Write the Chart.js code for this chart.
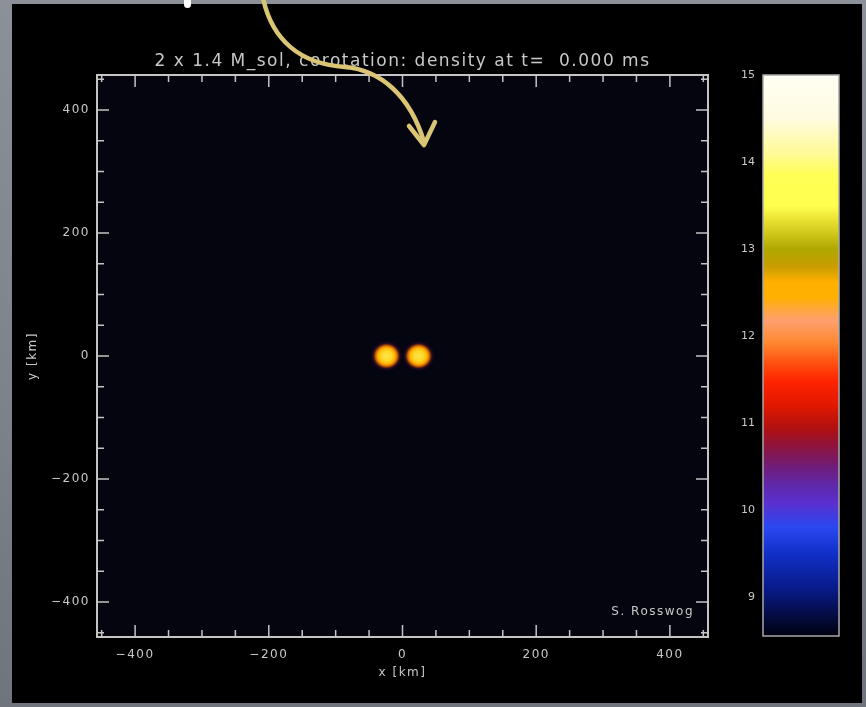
<!DOCTYPE html>
<html lang="en">
<head>
<meta charset="UTF-8">
<title>Density</title>
<script src="https://cdn.jsdelivr.net/npm/chart.js"></script>
<style>
  body { margin:0; width:866px; height:707px; overflow:hidden; position:relative;
         background: linear-gradient(180deg, #8b9099 0%, #7c818a 60%, #70747c 100%); }
  #panel { position:absolute; left:12px; top:4px; width:850px; height:699px; background:#000; }
  .layer { position:absolute; left:0; top:0; width:866px; height:707px; }
  #deco { position:absolute; left:0; top:0; pointer-events:none; }
</style>
</head>
<body>
<div id="panel"></div>
<div class="layer"><canvas id="main" width="866" height="707"></canvas></div>
<div class="layer"><canvas id="cbar" width="866" height="707"></canvas></div>
<svg id="deco" width="866" height="707">
  <rect x="184" y="-6" width="7" height="14" rx="3.5" fill="#ffffff"/>
  <path d="M263,-2 C272,40 300,64 345,67 C380,70 410,95 424,142" fill="none" stroke="#dac574" stroke-width="4.5" stroke-linecap="round"/>
  <polyline points="409,126 424,145 435,122" fill="none" stroke="#dac574" stroke-width="4.5" stroke-linecap="round" stroke-linejoin="round"/>
</svg>

<script>
// values
const starX = [-24, 24];          // km
const starY = [0, 0];
const xTicks = [-400, -200, 0, 200, 400];
const yTicks = [-400, -200, 0, 200, 400];
const axisMin = -457, axisMax = 457;
const cbTicks = [9, 10, 11, 12, 13, 14, 15];
const cbRange = [8.55, 15];       // log density
const chartTitle = '2 x 1.4 M_sol, corotation: density at t=  0.000 ms';

const fam = "'DejaVu Sans', sans-serif";
const txt = '#c8c8c8';

// colour table of the colour bar (value -> colour)
const colormap = [
  [8.55, '#000010'], [8.78, '#040c40'], [9.09, '#081a88'], [9.5, '#1030c8'],
  [9.8, '#2a48f0'], [10.07, '#5a30d0'], [10.29, '#6028a8'], [10.5, '#701c78'],
  [10.72, '#8c1440'], [10.94, '#b01010'], [11.2, '#e01800'], [11.47, '#ff2200'],
  [11.69, '#ff5010'], [11.92, '#ff8830'], [12.18, '#ffa070'], [12.45, '#ffb000'],
  [12.62, '#ffb000'], [12.8, '#c89c00'], [13.0, '#b0a800'], [13.32, '#e8e030'],
  [13.5, '#ffff50'], [13.85, '#ffff55'], [14.07, '#fffa90'], [14.5, '#fffbe0'], [15, '#fffff4']
];

// glowing blob used as point style for the stars
function makeStar() {
  const c = document.createElement('canvas');
  c.width = 34; c.height = 32;
  const g = c.getContext('2d');
  g.translate(17, 16);
  g.scale(1.06, 1);
  const rg = g.createRadialGradient(0, 0, 0, 0, 0, 16);
  rg.addColorStop(0, '#f6e84a');
  rg.addColorStop(0.3, '#ffd82a');
  rg.addColorStop(0.52, '#ffb000');
  rg.addColorStop(0.66, 'rgba(225,110,0,0.85)');
  rg.addColorStop(0.78, 'rgba(140,30,40,0.35)');
  rg.addColorStop(0.9, 'rgba(50,20,110,0.12)');
  rg.addColorStop(1, 'rgba(0,0,0,0)');
  g.fillStyle = rg;
  g.fillRect(-17, -16, 34, 32);
  return c;
}

const minus = v => String(v).replace('-', '\u2212');

const framePlugin = {
  id: 'frame',
  beforeLayout(chart) { chart.ctx.letterSpacing = '1.5px'; },
  beforeDraw(chart) {
    const a = chart.chartArea, ctx = chart.ctx;
    ctx.letterSpacing = '1.5px';
    ctx.save();
    ctx.fillStyle = '#05050f';
    ctx.fillRect(a.left, a.top, a.right - a.left, a.bottom - a.top);
    ctx.restore();
  },
  afterDraw(chart) {
    const a = chart.chartArea, ctx = chart.ctx;
    const sx = chart.scales.x, sy = chart.scales.y;
    ctx.save();
    ctx.strokeStyle = '#c4c4c4';
    ctx.lineWidth = 2;
    ctx.strokeRect(a.left, a.top, a.right - a.left, a.bottom - a.top);
    ctx.lineWidth = 1.5;
    ctx.beginPath();
    for (let v = -450; v <= 450; v += 50) {
      const len = v % 200 === 0 ? 12 : 7;
      const px = sx.getPixelForValue(v), py = sy.getPixelForValue(v);
      ctx.moveTo(px, a.bottom); ctx.lineTo(px, a.bottom - len);
      ctx.moveTo(px, a.top); ctx.lineTo(px, a.top + len);
      ctx.moveTo(a.left, py); ctx.lineTo(a.left + len, py);
      ctx.moveTo(a.right, py); ctx.lineTo(a.right - len, py);
    }
    ctx.stroke();
    ctx.fillStyle = txt;
    ctx.textBaseline = 'middle';
    // title, centred over the plot frame
    ctx.font = '17px ' + fam;
    ctx.textAlign = 'center';
    ctx.fillText(chartTitle, (a.left + a.right) / 2, a.top - 13);
    ctx.font = '12px ' + fam;
    ctx.textAlign = 'right';
    ctx.fillText('S. Rosswog', a.right - 14, a.bottom - 25);
    ctx.restore();
  }
};

new Chart(document.getElementById('main'), {
  type: 'scatter',
  data: {
    datasets: [{
      label: 'density',
      data: starX.map((x, i) => ({ x: x, y: starY[i] })),
      pointStyle: makeStar(),
      pointRadius: 17
    }]
  },
  options: {
    responsive: false,
    animation: false,
    layout: { padding: { left: 12, top: 75, right: 158, bottom: 20 } },
    plugins: {
      legend: { display: false },
      tooltip: { enabled: false },
      title: { display: false }
    },
    scales: {
      x: {
        type: 'linear', min: axisMin, max: axisMax,
        grid: { display: false, drawTicks: false },
        border: { display: false },
        afterBuildTicks: s => { s.ticks = xTicks.map(v => ({ value: v })); },
        afterFit: s => { s.height = 50; },
        ticks: { color: txt, font: { family: fam, size: 12 }, padding: 11, maxRotation: 0, callback: v => minus(v) },
        title: { display: true, text: 'x [km]', color: txt, font: { family: fam, size: 12 }, padding: { top: 0, bottom: 7 } }
      },
      y: {
        type: 'linear', min: axisMin, max: axisMax,
        grid: { display: false, drawTicks: false },
        border: { display: false },
        afterBuildTicks: s => { s.ticks = yTicks.map(v => ({ value: v })); },
        afterFit: s => { s.width = 85; },
        ticks: { color: txt, font: { family: fam, size: 12 }, padding: 7, callback: v => minus(v) },
        title: { display: true, text: 'y [km]', color: txt, font: { family: fam, size: 12 }, padding: { top: 14, bottom: 0 } }
      }
    }
  },
  plugins: [framePlugin]
});

const cbFrame = {
  id: 'cbFrame',
  afterDraw(chart) {
    const a = chart.chartArea, ctx = chart.ctx;
    ctx.save();
    ctx.strokeStyle = '#a8a8a8';
    ctx.lineWidth = 1.5;
    ctx.strokeRect(a.left, a.top, a.right - a.left, a.bottom - a.top);
    ctx.restore();
  }
};

new Chart(document.getElementById('cbar'), {
  type: 'bar',
  data: {
    labels: [''],
    datasets: [{
      data: [cbRange],
      borderWidth: 0,
      barPercentage: 1,
      categoryPercentage: 1,
      backgroundColor: c => {
        const chart = c.chart;
        if (!chart.chartArea) return '#000';
        const y = chart.scales.y;
        const g = chart.ctx.createLinearGradient(0, y.getPixelForValue(cbRange[0]), 0, y.getPixelForValue(cbRange[1]));
        colormap.forEach(([v, col]) => g.addColorStop((v - cbRange[0]) / (cbRange[1] - cbRange[0]), col));
        return g;
      }
    }]
  },
  options: {
    responsive: false,
    animation: false,
    layout: { padding: { left: 733, top: 75, right: 27, bottom: 71 } },
    plugins: { legend: { display: false }, tooltip: { enabled: false } },
    scales: {
      x: { display: false },
      y: {
        min: cbRange[0], max: cbRange[1],
        grid: { display: false, drawTicks: false },
        border: { display: false },
        afterBuildTicks: s => { s.ticks = cbTicks.map(v => ({ value: v })); },
        afterFit: s => { s.width = 30; },
        ticks: { color: txt, font: { family: fam, size: 11 }, padding: 8 }
      }
    }
  },
  plugins: [cbFrame]
});
</script>
</body>
</html>
